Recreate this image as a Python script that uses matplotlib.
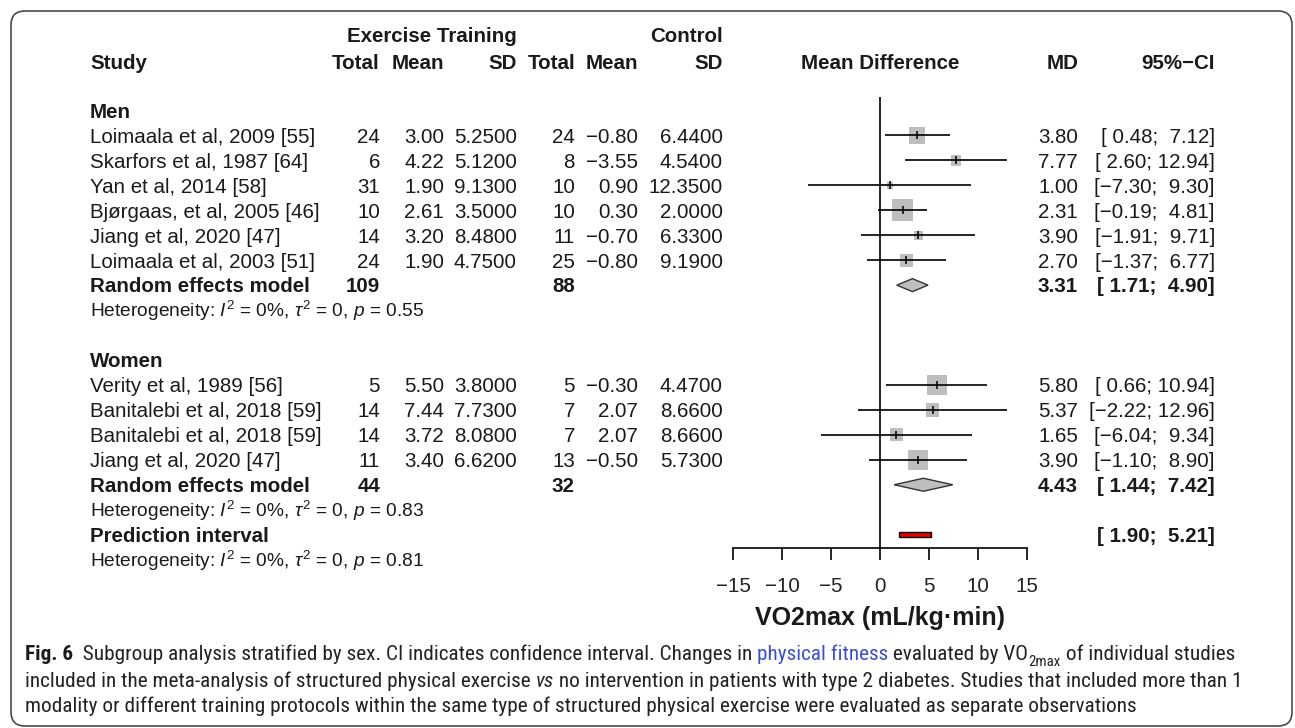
import matplotlib
matplotlib.use('Agg')
import numpy as np
import matplotlib.pyplot as plt
import matplotlib.transforms as mtransforms
from matplotlib import font_manager
from matplotlib.patches import FancyBboxPatch, Polygon, Rectangle

# ---- data ----
men_studies = ['Loimaala et al, 2009 [55]', 'Skarfors et al, 1987 [64]', 'Yan et al, 2014 [58]',
               'Bjørgaas, et al, 2005 [46]', 'Jiang et al, 2020 [47]', 'Loimaala et al, 2003 [51]']
men_e_total = [24, 6, 31, 10, 14, 24]
men_e_mean = [3.00, 4.22, 1.90, 2.61, 3.20, 1.90]
men_e_sd = [5.25, 5.12, 9.13, 3.50, 8.48, 4.75]
men_c_total = [24, 8, 10, 10, 11, 25]
men_c_mean = [-0.80, -3.55, 0.90, 0.30, -0.70, -0.80]
men_c_sd = [6.44, 4.54, 12.35, 2.00, 6.33, 9.19]
men_md = [3.80, 7.77, 1.00, 2.31, 3.90, 2.70]
men_lo = [0.48, 2.60, -7.30, -0.19, -1.91, -1.37]
men_hi = [7.12, 12.94, 9.30, 4.81, 9.71, 6.77]
men_pooled = [3.31, 1.71, 4.90]
men_het_p = '0.55'

women_studies = ['Verity et al, 1989 [56]', 'Banitalebi et al, 2018 [59]',
                 'Banitalebi et al, 2018 [59]', 'Jiang et al, 2020 [47]']
women_e_total = [5, 14, 14, 11]
women_e_mean = [5.50, 7.44, 3.72, 3.40]
women_e_sd = [3.80, 7.73, 8.08, 6.62]
women_c_total = [5, 7, 7, 13]
women_c_mean = [-0.30, 2.07, 2.07, -0.50]
women_c_sd = [4.47, 8.66, 8.66, 5.73]
women_md = [5.80, 5.37, 1.65, 3.90]
women_lo = [0.66, -2.22, -6.04, -1.10]
women_hi = [10.94, 12.96, 9.34, 8.90]
women_pooled = [4.43, 1.44, 7.42]
women_het_p = '0.83'

pred_interval = [1.90, 5.21]
overall_het_p = '0.81'

x_ticks = [-15, -10, -5, 0, 5, 10, 15]

# ---- look ----
W, H = 1295, 728
FONT = 'Liberation Sans'
FS = 14.8
HET_FS = 13.8
INK = '#1a1a1a'
ROW0, PITCH = 110.5, 24.95      # pixel centre of row 0 and row pitch
BASE = 7.3                      # baseline offset below row centre (px)

plt.rcParams['font.family'] = [FONT, 'DejaVu Sans']
plt.rcParams['mathtext.fontset'] = 'custom'
plt.rcParams['mathtext.rm'] = FONT
plt.rcParams['mathtext.it'] = FONT + ':italic'
plt.rcParams['mathtext.bf'] = FONT + ':bold'


def fmt(v, spec):
    return format(v, spec).replace('-', '\u2212')


def ci_text(lo, hi):
    return '[' + fmt(lo, '5.2f') + '; ' + fmt(hi, '5.2f') + ']'


fig = plt.figure(figsize=(W / 100, H / 100), dpi=100)
bg = fig.add_axes([0, 0, 1, 1])
bg.set_xlim(0, W)
bg.set_ylim(H, 0)
bg.axis('off')

# forest panel: x in mean difference units, y in row numbers
x0, x1, ytop, ybot = 733, 1027, 97, 548
ax = fig.add_axes([x0 / W, 1 - ybot / H, (x1 - x0) / W, (ybot - ytop) / H])
ax.set_xlim(-15, 15)
ax.set_ylim((ybot - ROW0) / PITCH, (ytop - ROW0) / PITCH)
ax.patch.set_alpha(0)
for s in ['top', 'left', 'right']:
    ax.spines[s].set_visible(False)
ax.spines['bottom'].set_linewidth(1.2)
ax.set_yticks([])
ax.set_xticks(x_ticks)
ax.tick_params(axis='x', direction='out', length=8.6, width=1.2, pad=12.5,
               labelsize=FS, labelcolor='#222222')
ax.axvline(0, color='black', lw=1.2)

# text rows share the forest y scale
trans = mtransforms.blended_transform_factory(bg.transData, ax.transData)


def row_text(x, row, s, ha='left', bold=False, size=FS):
    bg.text(x, row + BASE / PITCH, s, transform=trans, ha=ha, va='baseline',
            fontsize=size, color=INK, fontweight='bold' if bold else 'normal')


def head_text(x, y, s, ha='left'):
    bg.text(x, y + BASE, s, ha=ha, va='baseline', fontsize=FS, color=INK, fontweight='bold')


# header
head_text(517, 35, 'Exercise Training', ha='right')
head_text(723, 35, 'Control', ha='right')
head_text(90, 62, 'Study')
for x, s in [(380, 'Total'), (444, 'Mean'), (517, 'SD'), (575, 'Total'), (638, 'Mean'),
             (723, 'SD'), (1078, 'MD'), (1215, '95%\u2212CI')]:
    head_text(x, 62, s, ha='right')
head_text((x0 + x1) / 2, 62, 'Mean Difference', ha='center')

groups = [
    ('Men', men_studies, men_e_total, men_e_mean, men_e_sd, men_c_total, men_c_mean, men_c_sd,
     men_md, men_lo, men_hi, men_pooled, men_het_p),
    ('Women', women_studies, women_e_total, women_e_mean, women_e_sd, women_c_total, women_c_mean,
     women_c_sd, women_md, women_lo, women_hi, women_pooled, women_het_p),
]

row = 0
for (name, studies, et, em, esd, ct, cm, csd, md, lo, hi, pooled, het_p) in groups:
    row_text(90, row, name, bold=True)
    row += 1
    md = np.array(md)
    lo = np.array(lo)
    hi = np.array(hi)
    se = (hi - lo) / (2 * 1.959964)
    w = 1 / se ** 2
    pct = 100 * w / w.sum()
    rows = row + np.arange(len(studies))
    for k, r in enumerate(rows):
        row_text(90, r, studies[k])
        row_text(380, r, str(et[k]), ha='right')
        row_text(444, r, fmt(em[k], '.2f'), ha='right')
        row_text(517, r, fmt(esd[k], '.4f'), ha='right')
        row_text(575, r, str(ct[k]), ha='right')
        row_text(638, r, fmt(cm[k], '.2f'), ha='right')
        row_text(723, r, fmt(csd[k], '.4f'), ha='right')
        row_text(1078, r, fmt(md[k], '.2f'), ha='right')
        row_text(1215, r, ci_text(lo[k], hi[k]), ha='right')
    side_pt = 3.4 * np.sqrt(pct) * 0.72
    ax.scatter(md, rows, s=side_pt ** 2, marker='s', color='#bebebe', linewidths=0, zorder=2)
    ax.hlines(rows, lo, hi, color='black', lw=1.2, zorder=3)
    ax.plot(md, rows, ls='none', marker='|', ms=5.5, mew=1.1, color='black', zorder=4)
    row += len(studies)

    # pooled estimate
    row_text(90, row, 'Random effects model', bold=True)
    row_text(380, row, str(sum(et)), ha='right', bold=True)
    row_text(575, row, str(sum(ct)), ha='right', bold=True)
    row_text(1078, row, fmt(pooled[0], '.2f'), ha='right', bold=True)
    row_text(1215, row, ci_text(pooled[1], pooled[2]), ha='right', bold=True)
    h = 0.26
    ax.add_patch(Polygon([(pooled[1], row), (pooled[0], row - h), (pooled[2], row),
                          (pooled[0], row + h)], closed=True, facecolor='#bebebe',
                         edgecolor='#333333', lw=1.0, zorder=3))
    row += 1
    row_text(90, row, r'Heterogeneity: $I^2$ = 0%, $\tau^2$ = 0, $p$ = ' + het_p, size=HET_FS)
    row += 2

row -= 1
row_text(90, row, 'Prediction interval', bold=True)
row_text(1215, row, ci_text(pred_interval[0], pred_interval[1]), ha='right', bold=True)
ax.add_patch(Rectangle((pred_interval[0], row - 0.11), pred_interval[1] - pred_interval[0], 0.22,
                       facecolor='#e00000', edgecolor='black', lw=1.0, zorder=3))
row += 1
row_text(90, row, r'Heterogeneity: $I^2$ = 0%, $\tau^2$ = 0, $p$ = ' + overall_het_p, size=HET_FS)

bg.text((x0 + x1) / 2, 618, 'VO2max (mL/kg\u00b7min)', ha='center', va='center',
        fontsize=18, fontweight='bold', color=INK)

# ---- frame ----
bg.add_patch(FancyBboxPatch((11, 11), 1281, 715, boxstyle='round,pad=0,rounding_size=14',
                            facecolor='none', edgecolor='#4a4a4a', lw=1.2, clip_on=False))

# ---- caption ----
available = {f.name for f in font_manager.fontManager.ttflist}
cap_font = next((f for f in ['Liberation Sans Narrow', 'Roboto Condensed', 'Open Sans Condensed',
                             'DejaVu Sans Condensed'] if f in available), 'Open Sans')
renderer = fig.canvas.get_renderer()
line3 = ('modality or different training protocols within the same type of structured '
         'physical exercise were evaluated as separate observations')
probe = bg.text(25, 706, line3, fontsize=12, family=cap_font)
cap_fs = 12 * (1132 - 25) / probe.get_window_extent(renderer).width
probe.remove()
CAP_INK = '#222222'


def chain(prev, s, dy=0.0, **kw):
    kw.setdefault('fontsize', cap_fs)
    kw.setdefault('color', CAP_INK)
    return bg.annotate(s, xy=(1, 0), xycoords=prev, xytext=(0, dy), textcoords='offset points',
                       ha='left', va='bottom', family=cap_font, **kw)


t = bg.text(25, 655, 'Fig. 6', ha='left', va='center', family=cap_font, fontsize=cap_fs,
            fontweight='bold', color=INK)
t = chain(t, '  Subgroup analysis stratified by sex. CI indicates confidence interval. Changes in ')
t = chain(t, 'physical fitness', color='#3b4fd6')
t = chain(t, ' evaluated by VO')
t = chain(t, '2max', dy=-3, fontsize=cap_fs * 0.7)
t = chain(t, ' of individual studies', dy=3)

t = bg.text(25, 681, 'included in the meta-analysis of structured physical exercise ', ha='left',
            va='center', family=cap_font, fontsize=cap_fs, color=CAP_INK)
t = chain(t, 'vs', style='italic')
t = chain(t, ' no intervention in patients with type 2 diabetes. Studies that included more than 1')

bg.text(25, 706, line3, ha='left', va='center', family=cap_font, fontsize=cap_fs, color=CAP_INK)

fig.savefig('out.png', dpi=100)
